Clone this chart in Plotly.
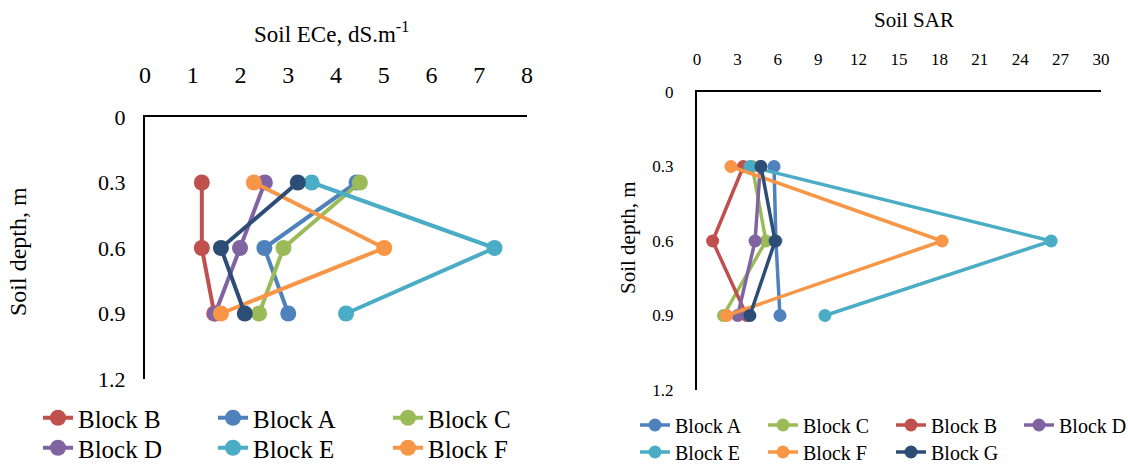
import plotly.graph_objects as go

# Soil depths sampled (m)
depths = [0.3, 0.6, 0.9]

# Soil ECe (dS/m) per block at each depth
ece_block_b = [1.19, 1.19, 1.45]
ece_block_a = [4.43, 2.50, 3.00]
ece_block_c = [4.50, 2.90, 2.39]
ece_block_d = [2.51, 1.99, 1.47]
ece_block_e = [3.49, 7.32, 4.21]
ece_block_f = [2.28, 5.01, 1.59]
ece_block_g = [3.20, 1.59, 2.09]

# Soil SAR per block at each depth
sar_block_a = [5.72, 5.86, 6.16]
sar_block_c = [4.10, 5.12, 1.96]
sar_block_b = [3.44, 1.16, 3.69]
sar_block_d = [4.70, 4.31, 3.02]
sar_block_e = [3.93, 26.3, 9.50]
sar_block_f = [2.52, 18.2, 2.20]
sar_block_g = [4.75, 5.80, 3.93]

ece_ticks = [0, 1, 2, 3, 4, 5, 6, 7, 8]
sar_ticks = [0, 3, 6, 9, 12, 15, 18, 21, 24, 27, 30]
depth_ticks = [0, 0.3, 0.6, 0.9, 1.2]
depth_labels = ["0", "0.3", "0.6", "0.9", "1.2"]

COLORS = {
    "Block A": "#4F81BD",
    "Block B": "#C0504D",
    "Block C": "#9BBB59",
    "Block D": "#8064A2",
    "Block E": "#4BACC6",
    "Block F": "#F79646",
    "Block G": "#2C4D75",
}

FONT = "Liberation Serif, Times New Roman, serif"
W, H = 1128, 464

fig = go.Figure()

# Left panel: ECe profiles
left_series = [
    ("Block B", ece_block_b, "legend"),
    ("Block A", ece_block_a, "legend"),
    ("Block C", ece_block_c, "legend"),
    ("Block D", ece_block_d, "legend2"),
    ("Block E", ece_block_e, "legend2"),
    ("Block F", ece_block_f, "legend2"),
    ("Block G", ece_block_g, None),
]
for name, vals, leg in left_series:
    fig.add_trace(go.Scatter(
        x=vals, y=depths, name=name, mode="lines+markers",
        line=dict(color=COLORS[name], width=4),
        marker=dict(color=COLORS[name], size=16),
        xaxis="x", yaxis="y",
        showlegend=leg is not None,
        legend=leg if leg else "legend",
        hoverinfo="skip",
    ))

# Right panel: SAR profiles
right_series = [
    ("Block A", sar_block_a, "legend3"),
    ("Block C", sar_block_c, "legend3"),
    ("Block B", sar_block_b, "legend3"),
    ("Block D", sar_block_d, "legend3"),
    ("Block E", sar_block_e, "legend4"),
    ("Block F", sar_block_f, "legend4"),
    ("Block G", sar_block_g, "legend4"),
]
for name, vals, leg in right_series:
    fig.add_trace(go.Scatter(
        x=vals, y=depths, name=name, mode="lines+markers",
        line=dict(color=COLORS[name], width=3.5),
        marker=dict(color=COLORS[name], size=13),
        xaxis="x2", yaxis="y2",
        legend=leg,
        hoverinfo="skip",
    ))


def px_x(p):
    return p / W


def px_y(p):
    return 1 - p / H


axis_common = dict(
    showgrid=False, zeroline=False, showline=True, linecolor="black",
    linewidth=2, ticks="", color="black",
)


def label(text, x, y, size, angle=0):
    return dict(text=text, x=px_x(x), y=px_y(y), xref="paper", yref="paper",
                xanchor="center", yanchor="middle", textangle=angle,
                showarrow=False, font=dict(size=size))


fig.update_layout(
    width=W, height=H,
    margin=dict(l=0, r=0, t=0, b=0, autoexpand=False),
    paper_bgcolor="white", plot_bgcolor="white",
    font=dict(family=FONT, color="black"),
    xaxis=dict(
        domain=[px_x(145), px_x(527)], anchor="y", side="top",
        range=[0, 8], tickvals=ece_ticks, ticklabelstandoff=22,
        tickfont=dict(size=24), **axis_common,
    ),
    yaxis=dict(
        domain=[px_y(379), px_y(117)], anchor="x",
        range=[1.2, 0], tickvals=depth_ticks, ticktext=depth_labels,
        ticklabelstandoff=13, tickfont=dict(size=22), **axis_common,
    ),
    xaxis2=dict(
        domain=[px_x(697), px_x(1101)], anchor="y2", side="top",
        range=[0, 30], tickvals=sar_ticks, ticklabelstandoff=18,
        tickfont=dict(size=17), **axis_common,
    ),
    yaxis2=dict(
        domain=[px_y(390), px_y(92)], anchor="x2",
        range=[1.2, 0], tickvals=depth_ticks, ticktext=depth_labels,
        ticklabelstandoff=18, tickfont=dict(size=17), **axis_common,
    ),
    legend=dict(
        orientation="h", x=px_x(38), y=px_y(418), xanchor="left", yanchor="middle",
        entrywidth=130, font=dict(size=25), bgcolor="rgba(0,0,0,0)",
    ),
    legend2=dict(
        orientation="h", x=px_x(38), y=px_y(448), xanchor="left", yanchor="middle",
        entrywidth=130, font=dict(size=25), bgcolor="rgba(0,0,0,0)",
    ),
    legend3=dict(
        orientation="h", x=px_x(635), y=px_y(425), xanchor="left", yanchor="middle",
        entrywidth=83, font=dict(size=20), bgcolor="rgba(0,0,0,0)",
    ),
    legend4=dict(
        orientation="h", x=px_x(635), y=px_y(452), xanchor="left", yanchor="middle",
        entrywidth=83, font=dict(size=20), bgcolor="rgba(0,0,0,0)",
    ),
    annotations=[
        label("Soil ECe, dS.m<sup>-1</sup>", 331, 32, 23),
        label("Soil depth, m", 18, 252, 24, -90),
        label("Soil SAR", 914, 20, 21),
        label("Soil depth, m", 628, 238, 21, -90),
    ],
)

fig.write_html("out.html")
